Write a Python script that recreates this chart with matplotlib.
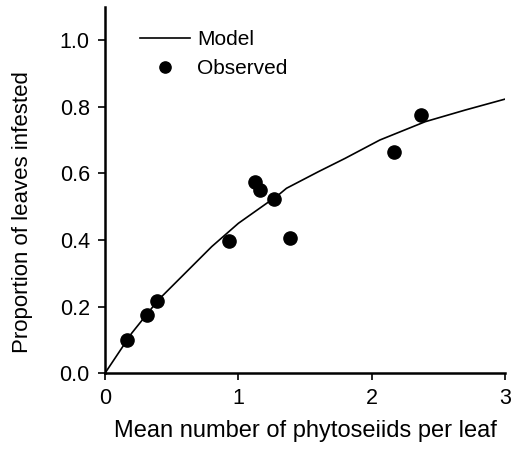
import numpy as np
import matplotlib
matplotlib.use('Agg')
from matplotlib import pyplot as plt

plt.rcParams['font.family'] = ['Liberation Sans', 'DejaVu Sans']

# model curve
model_x = [0.0, 0.2, 0.4, 0.6, 0.8, 1.0, 1.3, 1.36, 1.6, 1.8, 2.06, 2.4, 2.7, 3.0]
model_y = [0.0, 0.12, 0.22, 0.30, 0.38, 0.45, 0.535, 0.555, 0.605, 0.645, 0.70, 0.755, 0.79, 0.823]

# observed points
obs_x = [0.163, 0.318, 0.393, 0.926, 1.126, 1.159, 1.27, 1.389, 2.168, 2.368]
obs_y = [0.099, 0.174, 0.216, 0.397, 0.574, 0.551, 0.523, 0.407, 0.665, 0.775]

xticks = [0, 1, 2, 3]
yticks = [0.0, 0.2, 0.4, 0.6, 0.8, 1.0]

fig = plt.figure(figsize=(5.15, 4.55), dpi=100)
ax = fig.add_axes([0.204, 0.180, 0.777, 0.805])

ax.plot(model_x, model_y, color='black', lw=1.2, label='Model')
ax.plot(obs_x, obs_y, 'o', color='black', ms=9.5, ls='none', label='Observed')

ax.set_xlim(0, 3)
ax.set_ylim(0, 1.1)
ax.set_xticks(xticks)
ax.set_xticklabels([str(t) for t in xticks])
ax.set_yticks(yticks)
ax.set_yticklabels(['%.1f' % t for t in yticks])

for s in ['top', 'right']:
    ax.spines[s].set_visible(False)
for s in ['left', 'bottom']:
    ax.spines[s].set_linewidth(1.8)
ax.tick_params(direction='out', length=5, width=1.2, labelsize=15.5, pad=6)

ax.set_xlabel('Mean number of phytoseiids per leaf', fontsize=17, labelpad=8)
ax.set_ylabel('Proportion of leaves infested', fontsize=16)
ax.yaxis.set_label_coords(-0.18, 0.44)

ax.legend(loc='upper left', bbox_to_anchor=(0.0875, 0.937), frameon=False,
          fontsize=15, handlelength=2.4, handletextpad=0.35, borderpad=0,
          borderaxespad=0, markerscale=0.85, labelspacing=0.5)

fig.savefig('out.png', dpi=100)
